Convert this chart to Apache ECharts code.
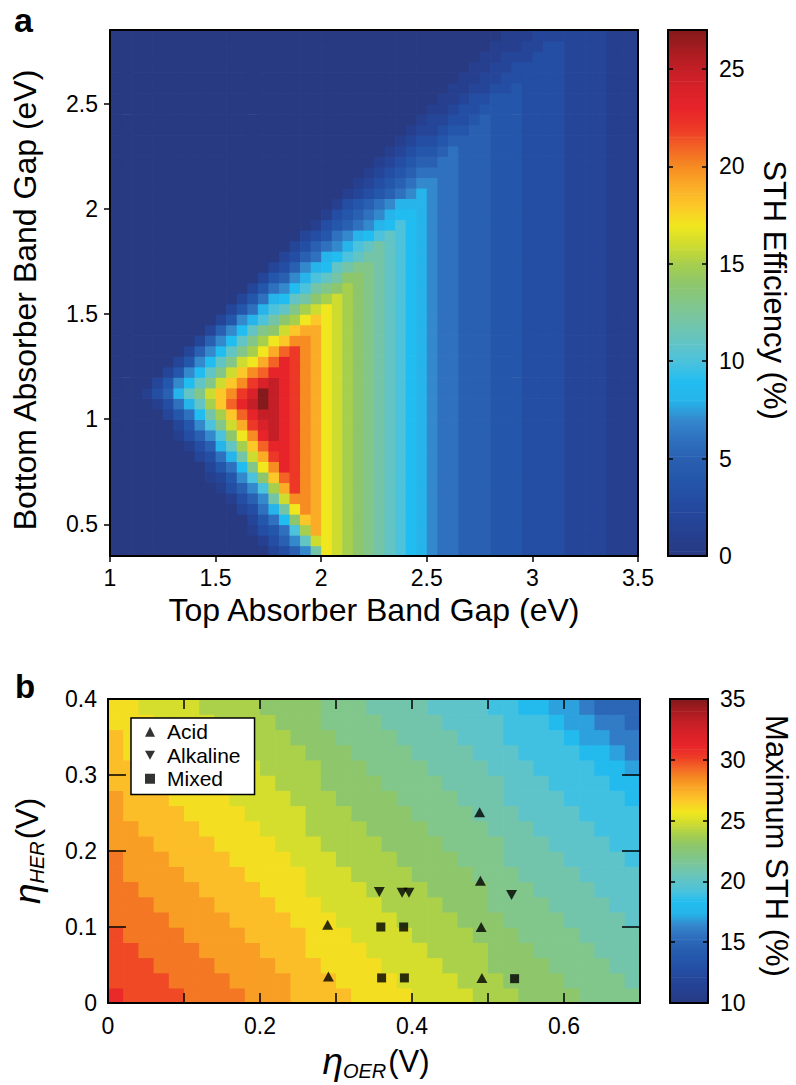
<!DOCTYPE html>
<html>
<head>
<meta charset="utf-8">
<script src="https://cdn.jsdelivr.net/npm/echarts@6/dist/echarts.min.js"></script>
<style>
html,body{margin:0;padding:0;background:#fff;}
#main{width:796px;height:1085px;}
</style>
</head>
<body>
<div id="main"></div>
<script>
// ---------------- DATA ----------------
// Panel a: cell lower edges (eV)
const topGapEV = [1.00,1.05,1.10,1.15,1.20,1.25,1.30,1.35,1.40,1.45,1.50,1.55,1.60,1.65,1.70,1.75,1.80,1.85,1.90,1.95,
                  2.00,2.05,2.10,2.15,2.20,2.25,2.30,2.35,2.40,2.45,2.50,2.55,2.60,2.65,2.70,2.75,2.80,2.85,2.90,2.95,
                  3.00,3.05,3.10,3.15,3.20,3.25,3.30,3.35,3.40,3.45];
const bottomGapEV = [0.35,0.40,0.45,0.50,0.55,0.60,0.65,0.70,0.75,0.80,0.85,0.90,0.95,1.00,1.05,1.10,1.15,1.20,1.25,1.30,
                     1.35,1.40,1.45,1.50,1.55,1.60,1.65,1.70,1.75,1.80,1.85,1.90,1.95,2.00,2.05,2.10,2.15,2.20,2.25,2.30,
                     2.35,2.40,2.45,2.50,2.55,2.60,2.65,2.70,2.75,2.80];
// STH efficiency (%) per cell, one string per bottom-gap row (lowest row first),
// one base-36 digit per top-gap column; omitted leading digits are 0.
const sthRows = [
  "2357chgfedcba9876655544433332222111",
  "1357bghgfedcba9876655544433332222111",
  "1346afjhgfedcba9876655544433332222111",
  "2469eijhgfedcba9876655544433332222111",
  "2368chkjhgfedcba9876655544433332222111",
  "1357cgkkjhgfedcba9876655544433332222111",
  "1357afjmkjhgfedcba9876655544433332222111",
  "1247aeilmkjhgfedcba9876655544433332222111",
  "2469dhknmkjhgfedcba9876655544433332222111",
  "2368cgjmnmkjhgfedcba9876655544433332222111",
  "1358bfilnnmkjhgfedcba9876655544433332222111",
  "1357aehknpnmkjhgfedcba9876655544433332222111",
  "247adgjmopnmkjhgfedcba9876655544433332222111",
  "2469cfilnppnmkjhgfedcba9876655544433332222111",
  "1368bfilnprpnmkjhgfedcba9876655544433332222111",
  "1358bdgikmorpnmkjhgfedcba9876655544433332222111",
  "2479bdgikmopnmkjhgfedcba9876655544433332222111",
  "2479bdgiklnnmkjhgfedcba9876655544433332222111",
  "2479bdghjlnmkjhgfedcba9876655544433332222111",
  "2579bdfhjlmkjhgfedcba9876655544433332222111",
  "2579bdfhikkjhgfedcba9876655544433332222111",
  "2579bdegijjhgfedcba9876655544433332222111",
  "2478acefhihgfedcba9876655544433332222111",
  "2468abdfghgfedcba9876655544433332222111",
  "24689bcefgfedcba9876655544433332222111",
  "24679acdefedcba9876655544433332222111",
  "24578abceedcba9876655544433332222111",
  "235789bcddcba9876655544433332222111",
  "235689abccba9876655544433332222111",
  "235678abcba9876655544433332222111",
  "2346789aba9876655544433332222111",
  "13456789a9876655544433332222111",
  "134567899876655544433332222111",
  "13456788876655544433332222111",
  "1234567876655544433332222111",
  "123456776655544433332222111",
  "12345666655544433332222111",
  "1234556655544433332222111",
  "123445655544433332222111",
  "12334555544433332222111",
  "1223445544433332222111",
  "122334544433332222111",
  "11233444433332222111",
  "1123344433332222111",
  "112233433332222111",
  "11223333332222111",
  "1122333332222111",
  "112223332222111",
  "11122332222111",
  "1112222222111"
];
// Panel b: cell lower edges (V)
const etaOER = [0,0.02,0.04,0.06,0.08,0.10,0.12,0.14,0.16,0.18,0.20,0.22,0.24,0.26,0.28,0.30,0.32,0.34,
                0.36,0.38,0.40,0.42,0.44,0.46,0.48,0.50,0.52,0.54,0.56,0.58,0.60,0.62,0.64,0.66,0.68];
const etaHER = [0,0.02,0.04,0.06,0.08,0.10,0.12,0.14,0.16,0.18,0.20,0.22,0.24,0.26,0.28,0.30,0.32,0.34,0.36,0.38];
// Maximum STH (%) per cell, lowest eta_HER row first, base-36 digit per eta_OER column
const maxSthRows = [
  "vuuuuttttsssrrrrqqqqppppooonnnnmmmm",
  "uuuuttttssssrrrqqqqppppooonnnnmmmml",
  "uuuttttssssrrrqqqqppppooonnnnmmmmll",
  "uuttttssssrrrqqqqppppoooonnnmmmmlll",
  "uttttssssrrrrqqqppppoooonnnmmmmllll",
  "ttttssssrrrrqqqppppoooonnnmmmmllllk",
  "tttssssrrrrqqqppppoooonnnmmmmllllkk",
  "ttssssrrrrqqqppppoooonnnnmmmllllkkk",
  "tssssrrrrqqqqpppoooonnnnmmmllllkkkk",
  "tsssrrrrqqqqpppoooonnnnmmmllllkkkkj",
  "sssrrrrqqqqpppoooonnnnmmmmlllkkkkjj",
  "ssrrrrqqqqpppoooonnnnmmmmlllkkkkjjj",
  "srrrrqqqqppppooonnnnmmmmlllkkkkjjjj",
  "srrrqqqqppppooonnnnmmmmlllkkkkjjjji",
  "rrrqqqqppppooonnnnmmmmllllkkkjjjjii",
  "rrqqqqppppoooonnnmmmmllllkkkjjjjiih",
  "rqqqqppppoooonnnmmmmllllkkkjjjjiihg",
  "rqqqppppoooonnnmmmmllllkkkjjjjihhgg",
  "qqqppppoooonnnmmmmllllkkkkjjjihhggf",
  "qqppppoooonnnnmmmllllkkkkjjiihhgfff"
];
// Catalyst overpotential points [eta_OER, eta_HER]
const acid = [[0.289,0.103],[0.290,0.035],[0.489,0.251],[0.490,0.161],[0.491,0.100],[0.492,0.033]];
const alkaline = [[0.357,0.146],[0.387,0.145],[0.396,0.145],[0.531,0.142]];
const mixed = [[0.359,0.100],[0.389,0.100],[0.360,0.033],[0.390,0.033],[0.535,0.032]];
// Tick values
const bottomGapTicks = [0.5,1,1.5,2,2.5];
const sthTicks = [0,5,10,15,20,25];
const maxSthTicks = [10,15,20,25,30,35];
const etaOERLabels = [0,0.2,0.4,0.6];
const palette = ['#283a82','#263f8e','#254599','#244ea3','#2457ab','#2960b1','#2f70bf','#3488cc','#26b4ea','#22bdf0',
                 '#4cc2dc','#62c4c4','#74c5a8','#82c68a','#8dc66c','#a6cf4e','#cedc30','#f1e71e','#fcc829','#fbac27',
                 '#f68c22','#f26325','#ed3827','#e7242a','#d92129','#c41f27','#a71c21','#841a1b'];

// ---------------- BUILD ----------------
function decodeRows(rows, width) {
  return rows.map(r => r.padStart(width, '0').slice(-width).split('').map(ch => parseInt(ch, 36)));
}
function gridData(rows, xs, ys) {
  const out = [];
  decodeRows(rows, xs.length).forEach((row, j) => row.forEach((v, i) => out.push([xs[i], ys[j], v])));
  return out;
}
const heatA = gridData(sthRows, topGapEV, bottomGapEV);
const heatB = gridData(maxSthRows, etaOER, etaHER);
const dxA = topGapEV[1] - topGapEV[0], dyA = bottomGapEV[1] - bottomGapEV[0];
const dxB = etaOER[1] - etaOER[0], dyB = etaHER[1] - etaHER[0];

function cellRenderer(dx, dy) {
  return function (params, api) {
    const x0 = api.value(0), y0 = api.value(1);
    const p0 = api.coord([x0, y0 + dy]);
    const p1 = api.coord([x0 + dx, y0]);
    return {
      type: 'rect',
      shape: { x: p0[0], y: p0[1], width: p1[0] - p0[0] + 0.7, height: p1[1] - p0[1] + 0.7 },
      style: { fill: api.visual('color'), stroke: null }
    };
  };
}
function colorbarData(min, max, n) {
  const out = [], step = (max - min) / n;
  for (let k = 0; k < n; k++) { const v = min + k * step; out.push([0, v, v + step / 2]); }
  return { data: out, step: step };
}
const cbA = colorbarData(0, 27, 216);
const cbB = colorbarData(10, 35, 200);

const FONT = "'Liberation Sans', Arial, Helvetica, sans-serif";
const K = '#000';
const tickStyle = { color: K, width: 1.5 };
function ax(extra) {
  return Object.assign({
    type: 'value',
    axisLine: { show: true, onZero: false, lineStyle: { color: K, width: 2 } },
    splitLine: { show: false },
    axisTick: { show: false },
    axisLabel: { show: false },
    z: 10
  }, extra);
}
const lbl = (o) => Object.assign({ show: true, fontSize: 23, fontFamily: FONT, color: K }, o);

const chart = echarts.init(document.getElementById('main'), null, { renderer: 'svg', width: 796, height: 1085 });

const etaRich = {
  e: { fontSize: 37, fontStyle: 'italic', fontFamily: FONT, lineHeight: 40, verticalAlign: 'middle' },
  s: { fontSize: 20, fontStyle: 'italic', fontFamily: FONT, lineHeight: 18, verticalAlign: 'bottom' },
  v: { fontSize: 31, fontFamily: FONT, lineHeight: 40, verticalAlign: 'middle', padding: [0, 0, 0, 2] }
};

const option = {
  backgroundColor: '#fff',
  animation: false,
  grid: [
    { left: 110, top: 30, width: 528, height: 526 },
    { left: 668, top: 30, width: 39, height: 526 },
    { left: 108, top: 699, width: 532, height: 304 },
    { left: 670, top: 699, width: 38, height: 304 }
  ],
  xAxis: [
    ax({ gridIndex: 0, position: 'bottom', min: 1, max: 3.5, interval: 0.5,
         axisTick: { show: true, inside: false, length: 6, lineStyle: tickStyle },
         axisLabel: lbl({ margin: 10 }) }),
    ax({ gridIndex: 0, position: 'top', min: 1, max: 3.5 }),
    ax({ gridIndex: 1, position: 'bottom', min: 0, max: 1 }),
    ax({ gridIndex: 1, position: 'top', min: 0, max: 1 }),
    ax({ gridIndex: 2, position: 'bottom', min: 0, max: 0.7, interval: 0.1,
         axisTick: { show: true, inside: true, length: 10, lineStyle: tickStyle },
         axisLabel: lbl({ margin: 11, formatter: v => etaOERLabels.some(t => Math.abs(t - v) < 1e-6) ? String(Math.round(v * 10) / 10) : '' }) }),
    ax({ gridIndex: 2, position: 'top', min: 0, max: 0.7, interval: 0.1,
         axisTick: { show: true, inside: true, length: 10, lineStyle: tickStyle } }),
    ax({ gridIndex: 3, position: 'bottom', min: 0, max: 1 }),
    ax({ gridIndex: 3, position: 'top', min: 0, max: 1 })
  ],
  yAxis: [
    ax({ gridIndex: 0, position: 'left', min: 0.35, max: 2.85,
         axisTick: { show: true, inside: false, length: 6, lineStyle: tickStyle, customValues: bottomGapTicks },
         axisLabel: lbl({ margin: 12, customValues: bottomGapTicks }) }),
    ax({ gridIndex: 0, position: 'right', min: 0.35, max: 2.85 }),
    ax({ gridIndex: 1, position: 'left', min: 0, max: 27,
         axisTick: { show: true, inside: true, length: 5, lineStyle: tickStyle, customValues: sthTicks } }),
    ax({ gridIndex: 1, position: 'right', min: 0, max: 27,
         axisTick: { show: true, inside: true, length: 5, lineStyle: tickStyle, customValues: sthTicks },
         axisLabel: lbl({ margin: 12, customValues: sthTicks }) }),
    ax({ gridIndex: 2, position: 'left', min: 0, max: 0.4, interval: 0.1,
         axisTick: { show: true, inside: true, length: 18, lineStyle: tickStyle },
         axisLabel: lbl({ margin: 11 }) }),
    ax({ gridIndex: 2, position: 'right', min: 0, max: 0.4, interval: 0.1,
         axisTick: { show: true, inside: true, length: 18, lineStyle: tickStyle } }),
    ax({ gridIndex: 3, position: 'left', min: 10, max: 35, interval: 5,
         axisTick: { show: true, inside: true, length: 5, lineStyle: tickStyle } }),
    ax({ gridIndex: 3, position: 'right', min: 10, max: 35, interval: 5,
         axisTick: { show: true, inside: true, length: 5, lineStyle: tickStyle },
         axisLabel: lbl({ margin: 12, customValues: maxSthTicks }) })
  ],
  visualMap: [
    { type: 'continuous', show: false, min: 0, max: 27, dimension: 2, seriesIndex: [0, 1], inRange: { color: palette } },
    { type: 'continuous', show: false, min: 10, max: 35, dimension: 2, seriesIndex: [2, 3], inRange: { color: palette } }
  ],
  legend: {
    data: [
      { name: 'Acid', icon: 'triangle' },
      { name: 'Alkaline', icon: 'path://M0,0L10,0L5,9Z' },
      { name: 'Mixed', icon: 'rect' }
    ],
    orient: 'vertical', left: 131, top: 718,
    itemWidth: 10, itemHeight: 10, itemGap: 0,
    padding: [2, 14, 4, 14],
    backgroundColor: '#fff', borderColor: K, borderWidth: 1.5, borderRadius: 0,
    selectedMode: false,
    textStyle: { fontSize: 21, fontFamily: FONT, color: K, lineHeight: 23.5, padding: [0, 0, 0, 7] },
    z: 8
  },
  series: [
    { type: 'custom', name: 'STH', xAxisIndex: 0, yAxisIndex: 0, data: heatA, encode: { x: 0, y: 1 },
      renderItem: cellRenderer(dxA, dyA), clip: true, silent: true, z: 2 },
    { type: 'custom', name: 'cbA', xAxisIndex: 2, yAxisIndex: 3, data: cbA.data, encode: { x: 0, y: 1 },
      renderItem: cellRenderer(1, cbA.step), clip: true, silent: true, z: 2 },
    { type: 'custom', name: 'MaxSTH', xAxisIndex: 4, yAxisIndex: 4, data: heatB, encode: { x: 0, y: 1 },
      renderItem: cellRenderer(dxB, dyB), clip: true, silent: true, z: 2 },
    { type: 'custom', name: 'cbB', xAxisIndex: 6, yAxisIndex: 7, data: cbB.data, encode: { x: 0, y: 1 },
      renderItem: cellRenderer(1, cbB.step), clip: true, silent: true, z: 2 },
    { type: 'scatter', name: 'Acid', xAxisIndex: 4, yAxisIndex: 4, data: acid, symbol: 'triangle',
      symbolSize: [11, 10], itemStyle: { color: K }, z: 6, silent: true },
    { type: 'scatter', name: 'Alkaline', xAxisIndex: 4, yAxisIndex: 4, data: alkaline, symbol: 'path://M0,0L10,0L5,9Z',
      symbolSize: [11, 10], itemStyle: { color: K }, z: 6, silent: true },
    { type: 'scatter', name: 'Mixed', xAxisIndex: 4, yAxisIndex: 4, data: mixed, symbol: 'rect',
      symbolSize: 9, itemStyle: { color: K }, z: 6, silent: true }
  ],
  graphic: [
    { type: 'text', x: 14, y: 20, z: 20,
      style: { text: 'a', fontSize: 34, fontWeight: 'bold', fontFamily: FONT, fill: K, align: 'left', verticalAlign: 'middle' } },
    { type: 'text', x: 15, y: 686, z: 20,
      style: { text: 'b', fontSize: 33, fontWeight: 'bold', fontFamily: FONT, fill: K, align: 'left', verticalAlign: 'middle' } },
    { type: 'text', x: 374, y: 610, z: 20,
      style: { text: 'Top Absorber Band Gap (eV)', fontSize: 32, fontFamily: FONT, fill: K, align: 'center', verticalAlign: 'middle' } },
    { type: 'text', x: 25, y: 300, rotation: Math.PI / 2, z: 20,
      style: { text: 'Bottom Absorber Band Gap (eV)', fontSize: 32, fontFamily: FONT, fill: K, align: 'center', verticalAlign: 'middle' } },
    { type: 'text', x: 774, y: 290, rotation: -Math.PI / 2, z: 20,
      style: { text: 'STH Efficiency (%)', fontSize: 31, fontFamily: FONT, fill: K, align: 'center', verticalAlign: 'middle' } },
    { type: 'text', x: 776, y: 846, rotation: -Math.PI / 2, z: 20,
      style: { text: 'Maximum STH (%)', fontSize: 31, fontFamily: FONT, fill: K, align: 'center', verticalAlign: 'middle' } },
    { type: 'text', x: 376, y: 1061, z: 20,
      style: { text: '{e|η}{s|OER}{v|(V)}', fontFamily: FONT, fill: K, align: 'center', verticalAlign: 'middle', rich: etaRich } },
    { type: 'text', x: 27, y: 851, rotation: Math.PI / 2, z: 20,
      style: { text: '{e|η}{s|HER}{v|(V)}', fontFamily: FONT, fill: K, align: 'center', verticalAlign: 'middle', rich: etaRich } }
  ]
};
chart.setOption(option);
</script>
</body>
</html>
